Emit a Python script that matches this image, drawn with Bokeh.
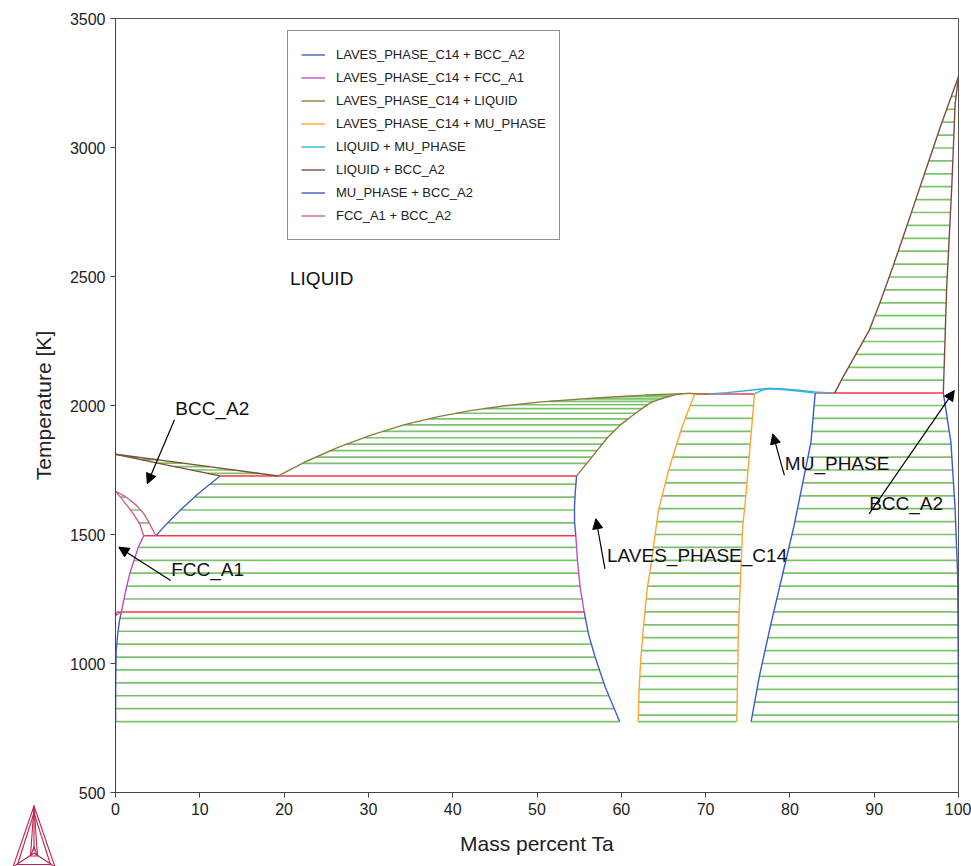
import numpy as np
from bokeh.plotting import figure
from bokeh.layouts import column
from bokeh.models import (Range1d, Arrow, NormalHead, Legend, LegendItem,
                          FixedTicker, Div)
from bokeh.core.properties import value
from bokeh.embed import file_html
from bokeh.resources import INLINE

# ---------------- phase boundaries (x = mass % Ta, T = K) ----------------
# LIQUID + BCC_A2 (Fe side)
fe_liq_x = [0.0, 10.0, 19.3]
fe_liq_T = [1811, 1768, 1727]
fe_sol_x = [0.0, 6.0, 12.4]
fe_sol_T = [1811, 1770, 1727]

# LAVES_PHASE_C14 + LIQUID
lv_liq_x = [19.3, 22.4, 26.4, 30.4, 34.3, 38.3, 42.3, 46.2, 50.2, 56.1, 60.0, 64.0, 68.0]
lv_liq_T = [1727, 1780, 1838, 1886, 1926, 1957, 1981, 1999, 2013, 2027, 2035, 2042, 2047]
lv_sol_x = [54.7, 56.5, 58.4, 59.9, 61.6, 62.6, 63.6, 65.0, 66.4, 67.2, 68.0]
lv_sol_T = [1727, 1800, 1877, 1925, 1968, 1992, 2013, 2029, 2041, 2045, 2047]
lv_rsol_x = [68.0, 68.7]
lv_rsol_T = [2047, 2045]
lv_rliq_x = [68.0, 70.4]
lv_rliq_T = [2047, 2045]

# LAVES_PHASE_C14 + BCC_A2
bcc_hi_x = [4.8, 6.2, 7.8, 9.8, 12.4]
bcc_hi_T = [1495, 1546, 1598, 1658, 1727]
lvl_hi_x = [54.6, 54.45, 54.45, 54.55, 54.7]
lvl_hi_T = [1495, 1550, 1610, 1670, 1727]
bcc_lo_x = [0.7, 0.48, 0.27, 0.08, 0.03, 0.01]
bcc_lo_T = [1200, 1167, 1116, 1050, 950, 775]
lvl_lo_x = [55.6, 56.1, 56.9, 58.1, 59.8]
lvl_lo_T = [1200, 1115, 1024, 908, 775]

# LAVES_PHASE_C14 + FCC_A1
fcc_x = [3.35, 2.7, 2.2, 1.7, 1.2, 0.7]
fcc_T = [1495, 1450, 1400, 1350, 1280, 1200]
lvl_mid_x = [54.6, 54.8, 55.1, 55.6]
lvl_mid_T = [1495, 1400, 1300, 1200]

# FCC_A1 + BCC_A2
lens_fcc_x = [0.0, 0.59, 1.39, 2.18, 2.9, 3.35]
lens_fcc_T = [1667, 1645, 1612, 1577, 1539, 1495]
lens_bcc_x = [0.0, 0.99, 1.78, 2.58, 3.37, 3.96, 4.36, 4.8]
lens_bcc_T = [1667, 1651, 1632, 1610, 1580, 1548, 1522, 1495]
lens_lo1_x = [0.0, 0.7]
lens_lo1_T = [1185, 1200]
lens_lo2_x = [0.0, 0.2]
lens_lo2_T = [1185, 1200]

# LAVES_PHASE_C14 + MU_PHASE
lvr_x = [68.7, 67.2, 65.6, 64.4, 63.6, 63.1, 62.65, 62.3, 62.1, 62.0]
lvr_T = [2045, 1916, 1748, 1593, 1399, 1296, 1150, 1012, 890, 775]
mul_x = [75.8, 75.3, 74.8, 74.4, 73.9, 73.7]
mul_T = [2045, 1851, 1658, 1528, 1141, 775]

# LIQUID + MU_PHASE
mu_liq_x = [70.4, 72.5, 74.5, 76.3, 77.5, 79.0, 81.0, 83.0, 85.3]
mu_liq_T = [2045, 2050, 2056, 2063, 2066, 2065, 2059, 2053, 2048]
mu_sol_x = [75.8, 76.6, 77.5, 79.5, 81.5, 83.0]
mu_sol_T = [2045, 2058, 2066, 2061, 2054, 2048]

# MU_PHASE + BCC_A2
mur_x = [83.0, 82.5, 81.7, 80.5, 79.1, 77.7, 76.4, 75.4]
mur_T = [2048, 1858, 1729, 1535, 1341, 1147, 954, 775]
bcc_ta_x = [98.2, 99.1, 99.6, 99.9, 99.97, 100.0]
bcc_ta_T = [2048, 1858, 1600, 1340, 1000, 775]

# LIQUID + BCC_A2 (Ta side)
ta_liq_x = [85.3, 86.3, 87.4, 88.4, 89.4, 90.7, 92.2, 93.5, 94.9, 96.3, 97.7, 98.9, 100.0]
ta_liq_T = [2048, 2110, 2174, 2232, 2291, 2400, 2536, 2660, 2795, 2930, 3066, 3175, 3275]
ta_sol_x = [98.2, 98.6, 99.2, 99.6, 100.0]
ta_sol_T = [2048, 2459, 2846, 3169, 3275]

# invariant (three-phase) lines
inv_T = [1727, 1495, 1200, 2045, 2048]
inv_x0 = [12.4, 3.35, 0.2, 68.7, 83.0]
inv_x1 = [54.7, 54.6, 55.6, 75.8, 98.2]

# tie-line temperatures per two-phase field
tie_fe_liq = [1737, 1750, 1763, 1777, 1790, 1800]
tie_lv_liq = [1776, 1800, 1825, 1850, 1875, 1900, 1925, 1948, 1970, 1988, 2003,
              2016, 2026, 2034, 2040]
tie_lv_bcc_hi = [1545, 1595, 1645, 1695]
tie_lens = [1545, 1595, 1645]
tie_lv_fcc = [1250, 1300, 1350, 1400, 1450]
tie_lv_bcc_lo = [775, 825, 875, 925, 975, 1025, 1075, 1125, 1175]
tie_lv_mu = [775, 800, 850, 900, 950, 1000, 1050, 1100, 1150, 1200, 1250, 1300,
             1350, 1400, 1450, 1500, 1550, 1600, 1650, 1700, 1750, 1800, 1850,
             1900, 1950, 2000]
tie_mu_bcc = [775, 800, 850, 900, 950, 1000, 1050, 1100, 1150, 1200, 1250, 1300,
              1350, 1400, 1450, 1500, 1550, 1600, 1650, 1700, 1750, 1800, 1850,
              1900, 1950, 2000]
tie_ta_liq = [2098, 2148, 2198, 2248, 2298, 2348, 2398, 2448, 2498, 2548, 2598,
              2648, 2698, 2748, 2798, 2848, 2898, 2948, 2998, 3048, 3098, 3148, 3198]

# annotations
label_text = ["LIQUID", "BCC_A2", "FCC_A1", "LAVES_PHASE_C14", "MU_PHASE", "BCC_A2"]
label_x = [20.7, 7.1, 6.6, 58.3, 79.4, 89.4]
label_T = [2492, 1988, 1366, 1417, 1775, 1622]
arrow_x0 = [7.0, 6.54, 58.06, 79.35, 89.4]
arrow_T0 = [1945, 1322, 1367, 1729, 1580]
arrow_x1 = [3.77, 0.39, 56.99, 77.97, 99.5]
arrow_T1 = [1697, 1451, 1561, 1890, 2058]

x_ticks = [0, 10, 20, 30, 40, 50, 60, 70, 80, 90, 100]
y_ticks = [500, 1000, 1500, 2000, 2500, 3000, 3500]

legend_labels = ["LAVES_PHASE_C14 + BCC_A2", "LAVES_PHASE_C14 + FCC_A1",
                 "LAVES_PHASE_C14 + LIQUID", "LAVES_PHASE_C14 + MU_PHASE",
                 "LIQUID + MU_PHASE", "LIQUID + BCC_A2", "MU_PHASE + BCC_A2",
                 "FCC_A1 + BCC_A2"]
legend_colors = ["#3f5fc8", "#c04cc8", "#8c7c3c", "#ffa632", "#2fb0e0",
                 "#7c4e3a", "#3a5ad0", "#c8648a"]


def at(t, xs, Ts):
    Ts = np.asarray(Ts, float)
    xs = np.asarray(xs, float)
    o = np.argsort(Ts)
    return float(np.interp(t, Ts[o], xs[o]))


def ties(temps, ax, aT, bx, bT):
    xs, ys = [], []
    for t in temps:
        xs.append([at(t, ax, aT), at(t, bx, bT)])
        ys.append([t, t])
    return xs, ys


FONT = "Liberation Sans"
p = figure(width=971, height=866, x_range=Range1d(0, 100), y_range=Range1d(500, 3500),
           output_backend="svg", toolbar_location=None,
           min_border_left=115, min_border_right=13, min_border_top=18,
           min_border_bottom=74)
p.xgrid.visible = False
p.ygrid.visible = False
p.outline_line_color = "#555555"
p.background_fill_color = "white"
p.border_fill_color = "white"

for ax in (p.xaxis, p.yaxis):
    ax.axis_line_color = "#444444"
    ax.major_tick_line_color = "#444444"
    ax.major_tick_out = 5
    ax.major_tick_in = 0
    ax.minor_tick_line_color = None
    ax.major_label_text_font = FONT
    ax.major_label_text_font_size = "16px"
    ax.major_label_text_color = "#222222"
    ax.axis_label_text_font = FONT
    ax.axis_label_text_font_size = "21px"
    ax.axis_label_text_font_style = "normal"
    ax.axis_label_text_color = "#222222"
p.xaxis.ticker = FixedTicker(ticks=x_ticks)
p.yaxis.ticker = FixedTicker(ticks=y_ticks)
p.xaxis.axis_label = "Mass percent Ta"
p.yaxis.axis_label = "Temperature [K]"
p.xaxis.axis_label_standoff = 14
p.yaxis.axis_label_standoff = 12

# ---- tie lines (green)
green = "#74c062"
for temps, a, b in [
    (tie_fe_liq, (fe_liq_x, fe_liq_T), (fe_sol_x, fe_sol_T)),
    (tie_lv_liq, (lv_liq_x, lv_liq_T), (lv_sol_x, lv_sol_T)),
    (tie_lv_bcc_hi, (bcc_hi_x, bcc_hi_T), (lvl_hi_x, lvl_hi_T)),
    (tie_lens, (lens_fcc_x, lens_fcc_T), (lens_bcc_x, lens_bcc_T)),
    (tie_lv_fcc, (fcc_x, fcc_T), (lvl_mid_x, lvl_mid_T)),
    (tie_lv_bcc_lo, (bcc_lo_x, bcc_lo_T), (lvl_lo_x, lvl_lo_T)),
    (tie_lv_mu, (lvr_x, lvr_T), (mul_x, mul_T)),
    (tie_mu_bcc, (mur_x, mur_T), (bcc_ta_x, bcc_ta_T)),
    (tie_ta_liq, (ta_liq_x, ta_liq_T), (ta_sol_x, ta_sol_T)),
]:
    xs, ys = ties(temps, a[0], a[1], b[0], b[1])
    p.multi_line(xs, ys, line_color=green, line_width=1.7, line_alpha=0.95)

# ---- invariant lines (red)
p.multi_line([[a, b] for a, b in zip(inv_x0, inv_x1)], [[t, t] for t in inv_T],
             line_color="#ee3a48", line_width=1.5)

# ---- phase boundaries grouped by legend category
groups = [
    [(bcc_hi_x, bcc_hi_T), (lvl_hi_x, lvl_hi_T), (bcc_lo_x, bcc_lo_T), (lvl_lo_x, lvl_lo_T)],
    [(fcc_x, fcc_T), (lvl_mid_x, lvl_mid_T)],
    [(lv_liq_x, lv_liq_T), (lv_sol_x, lv_sol_T), (lv_rsol_x, lv_rsol_T), (lv_rliq_x, lv_rliq_T)],
    [(lvr_x, lvr_T), (mul_x, mul_T)],
    [(mu_liq_x, mu_liq_T), (mu_sol_x, mu_sol_T)],
    [(fe_liq_x, fe_liq_T), (fe_sol_x, fe_sol_T), (ta_liq_x, ta_liq_T), (ta_sol_x, ta_sol_T)],
    [(mur_x, mur_T), (bcc_ta_x, bcc_ta_T)],
    [(lens_fcc_x, lens_fcc_T), (lens_bcc_x, lens_bcc_T), (lens_lo1_x, lens_lo1_T),
     (lens_lo2_x, lens_lo2_T)],
]
items = []
for lab, col, segs in zip(legend_labels, legend_colors, groups):
    r = p.multi_line([list(s[0]) for s in segs], [list(s[1]) for s in segs],
                     line_color=col, line_width=1.4)
    items.append(LegendItem(label=lab, renderers=[r]))

legend = Legend(items=items, location=(172, 552))
legend.label_text_font = FONT
legend.label_text_font_size = "13px"
legend.label_text_color = "#222222"
legend.glyph_width = 24
legend.glyph_height = 21
legend.label_height = 21
legend.label_standoff = 11
legend.spacing = 2
legend.padding = 13
legend.margin = 0
legend.border_line_color = "#222222"
legend.border_line_width = 1
legend.background_fill_color = "white"
legend.background_fill_alpha = 1.0
p.add_layout(legend)

# ---- text labels and arrows
p.text(label_x, label_T, text=label_text, text_font=value(FONT), text_font_size="19px",
       text_color="#111111", text_baseline="middle", text_align="left")
for x0, t0, x1, t1 in zip(arrow_x0, arrow_T0, arrow_x1, arrow_T1):
    p.add_layout(Arrow(end=NormalHead(size=10, fill_color="black", line_color="black"),
                       x_start=x0, y_start=t0, x_end=x1, y_end=t1,
                       line_color="black", line_width=1.2))

# ---- logo (decorative, absolutely positioned in the page corner)
logo_svg = (
    '<svg width="60" height="70" xmlns="http://www.w3.org/2000/svg" '
    'fill="none" stroke="#c1224f" stroke-width="1.1">'
    '<polygon points="29,5 8,66 50,66"/>'
    '<polygon points="29,12 12.5,63.5 45.5,63.5"/>'
    '<polyline points="29,5 29,50"/>'
    '<polyline points="8,66 29,52 50,66"/>'
    '<polygon points="29,46 25.5,55 32.5,55"/>'
    '<polyline points="25.5,55 29,5 32.5,55"/>'
    '</svg>'
)
logo = Div(text=logo_svg, width=60, height=70,
           styles={"position": "absolute", "left": "0px", "top": "796px",
                   "pointer-events": "none"})

layout = column(p, logo)
open("out.html", "w").write(file_html(layout, INLINE))
